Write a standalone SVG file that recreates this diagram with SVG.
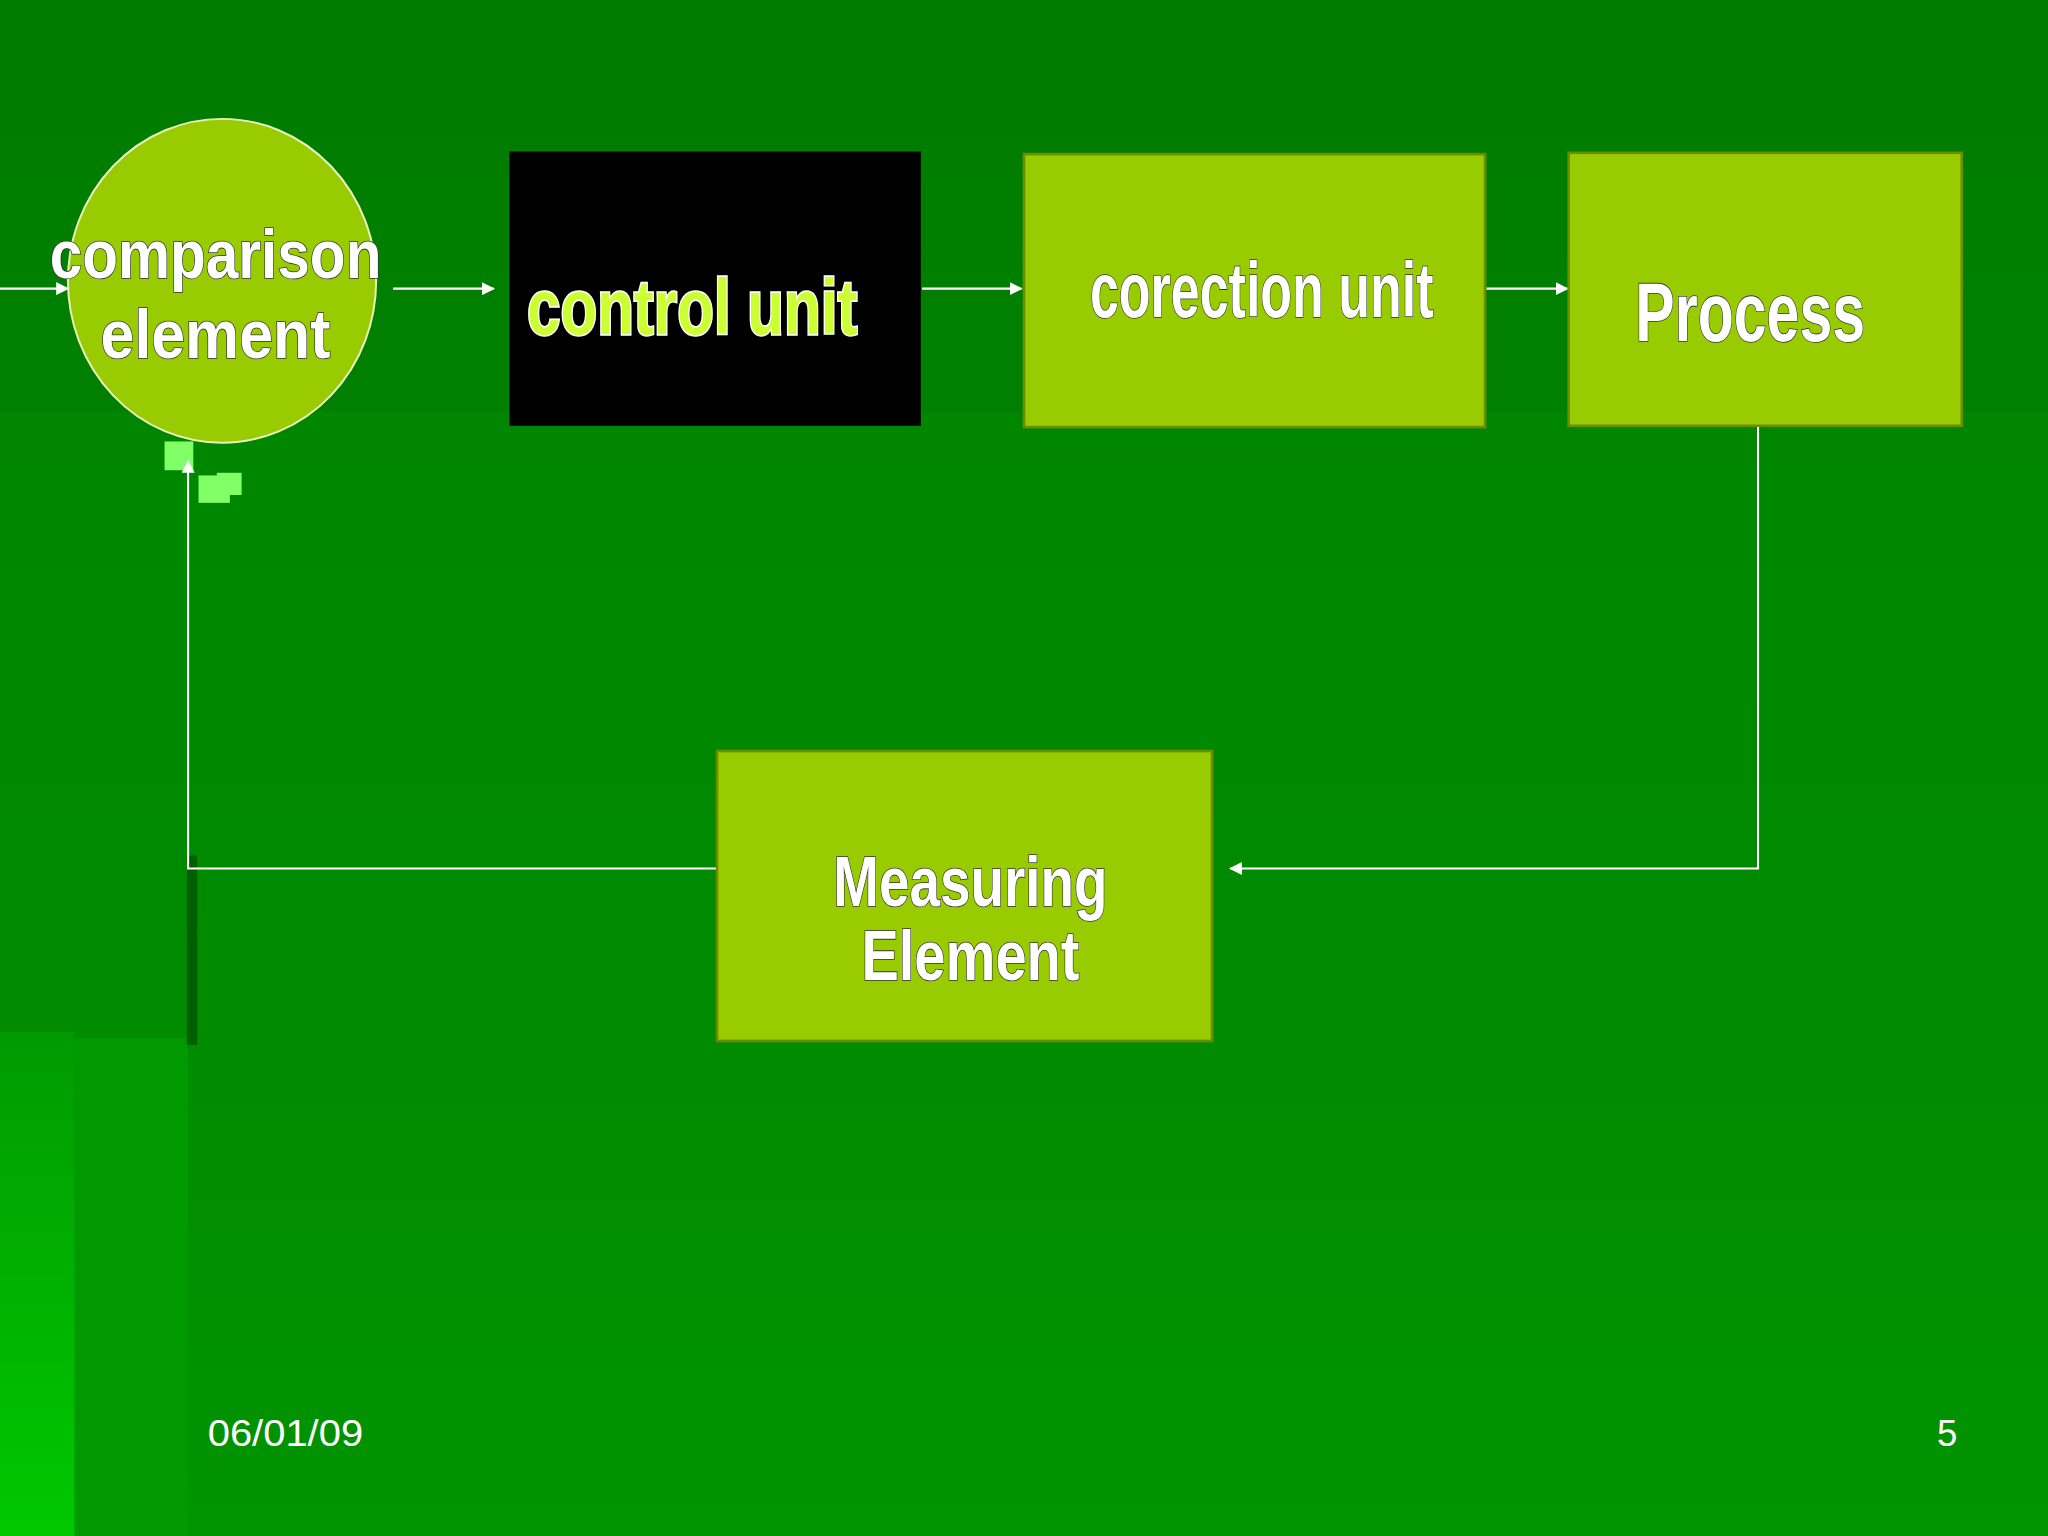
<svg xmlns="http://www.w3.org/2000/svg" width="2048" height="1536" viewBox="0 0 2048 1536">
<defs>
<linearGradient id="bg" x1="0" y1="0" x2="0" y2="1"><stop offset="0" stop-color="#007a00"/><stop offset="1" stop-color="#009400"/></linearGradient>
<linearGradient id="strip" x1="0" y1="0" x2="0" y2="1"><stop offset="0" stop-color="#009a00"/><stop offset="1" stop-color="#00c800"/></linearGradient>
<marker id="ah" markerWidth="10" markerHeight="10" refX="9" refY="5" orient="auto" markerUnits="userSpaceOnUse"><path d="M0,0 L10,5 L0,10 Z" fill="#fff"/></marker>
<style>
.box{fill:#99cc00;stroke:#6b8e00;stroke-width:2}
.lbl{font-family:"Liberation Sans",sans-serif;font-weight:bold;fill:#fff;stroke:#333;stroke-width:1.2;paint-order:stroke;text-anchor:middle}
.cu{fill:#ccff33;stroke:#fff;stroke-width:2.5}
.conn{stroke:#fff;stroke-width:1.6;fill:none}
.ft{font-family:"Liberation Sans",sans-serif;font-size:28px;fill:#fff}
</style>
</defs>
<g transform="scale(1.30612)">
<rect width="1568" height="1176" fill="url(#bg)"/>
<rect y="0" width="1568" height="315" fill="#007f00" opacity="0.6"/>
<rect x="0" y="315" width="1568" height="478" fill="#008c00" opacity="0.5"/>
<rect x="57" y="795" width="87" height="381" fill="#009a00"/>
<rect x="0" y="790" width="57" height="386" fill="url(#strip)"/>
<rect x="143" y="655" width="8" height="145" fill="#006000"/>
<rect x="126" y="338" width="22" height="22" fill="#80ff66"/>
<rect x="152" y="364" width="24" height="21" fill="#80ff66"/>
<rect x="166" y="362" width="19" height="17" fill="#80ff66"/>
<g id="connectors">
<line class="conn" x1="0" y1="221" x2="52" y2="221" marker-end="url(#ah)"/>
<line class="conn" x1="301" y1="221" x2="378" y2="221" marker-end="url(#ah)"/>
<line class="conn" x1="706" y1="221" x2="782" y2="221" marker-end="url(#ah)"/>
<line class="conn" x1="1138" y1="221" x2="1200" y2="221" marker-end="url(#ah)"/>
<polyline class="conn" points="1346,327 1346,665 942,665" marker-end="url(#ah)"/>
<polyline class="conn" points="549,665 144,665 144,353" marker-end="url(#ah)"/>
</g>
<g id="comparison"><ellipse cx="170" cy="215" rx="118" ry="124" fill="#99cc00" stroke="#e8f5c0" stroke-width="1.5"/>
<text class="lbl" x="165" y="213" font-size="52" textLength="254" lengthAdjust="spacingAndGlyphs">comparison</text><text class="lbl" x="165" y="274" font-size="52" textLength="176" lengthAdjust="spacingAndGlyphs">element</text></g>
<g id="control"><rect x="390" y="116" width="315" height="210" fill="#000"/>
<text class="lbl cu" x="530" y="256" font-size="60" textLength="253" lengthAdjust="spacingAndGlyphs">control unit</text></g>
<g id="correction"><rect class="box" x="784" y="118" width="353" height="209"/>
<text class="lbl" x="966" y="243" font-size="60" textLength="263" lengthAdjust="spacingAndGlyphs">corection unit</text></g>
<g id="process"><rect class="box" x="1201" y="117" width="301" height="209"/>
<text class="lbl" x="1340" y="261" font-size="64" textLength="176" lengthAdjust="spacingAndGlyphs">Process</text></g>
<g id="measuring"><rect class="box" x="549" y="575" width="379" height="222"/>
<text class="lbl" x="743" y="694" font-size="54" textLength="210" lengthAdjust="spacingAndGlyphs">Measuring</text><text class="lbl" x="743" y="750" font-size="54" textLength="167" lengthAdjust="spacingAndGlyphs">Element</text></g>
<text class="ft" x="159" y="1107" textLength="119" lengthAdjust="spacingAndGlyphs">06/01/09</text>
<text class="ft" x="1483" y="1107">5</text>
</g>
</svg>
